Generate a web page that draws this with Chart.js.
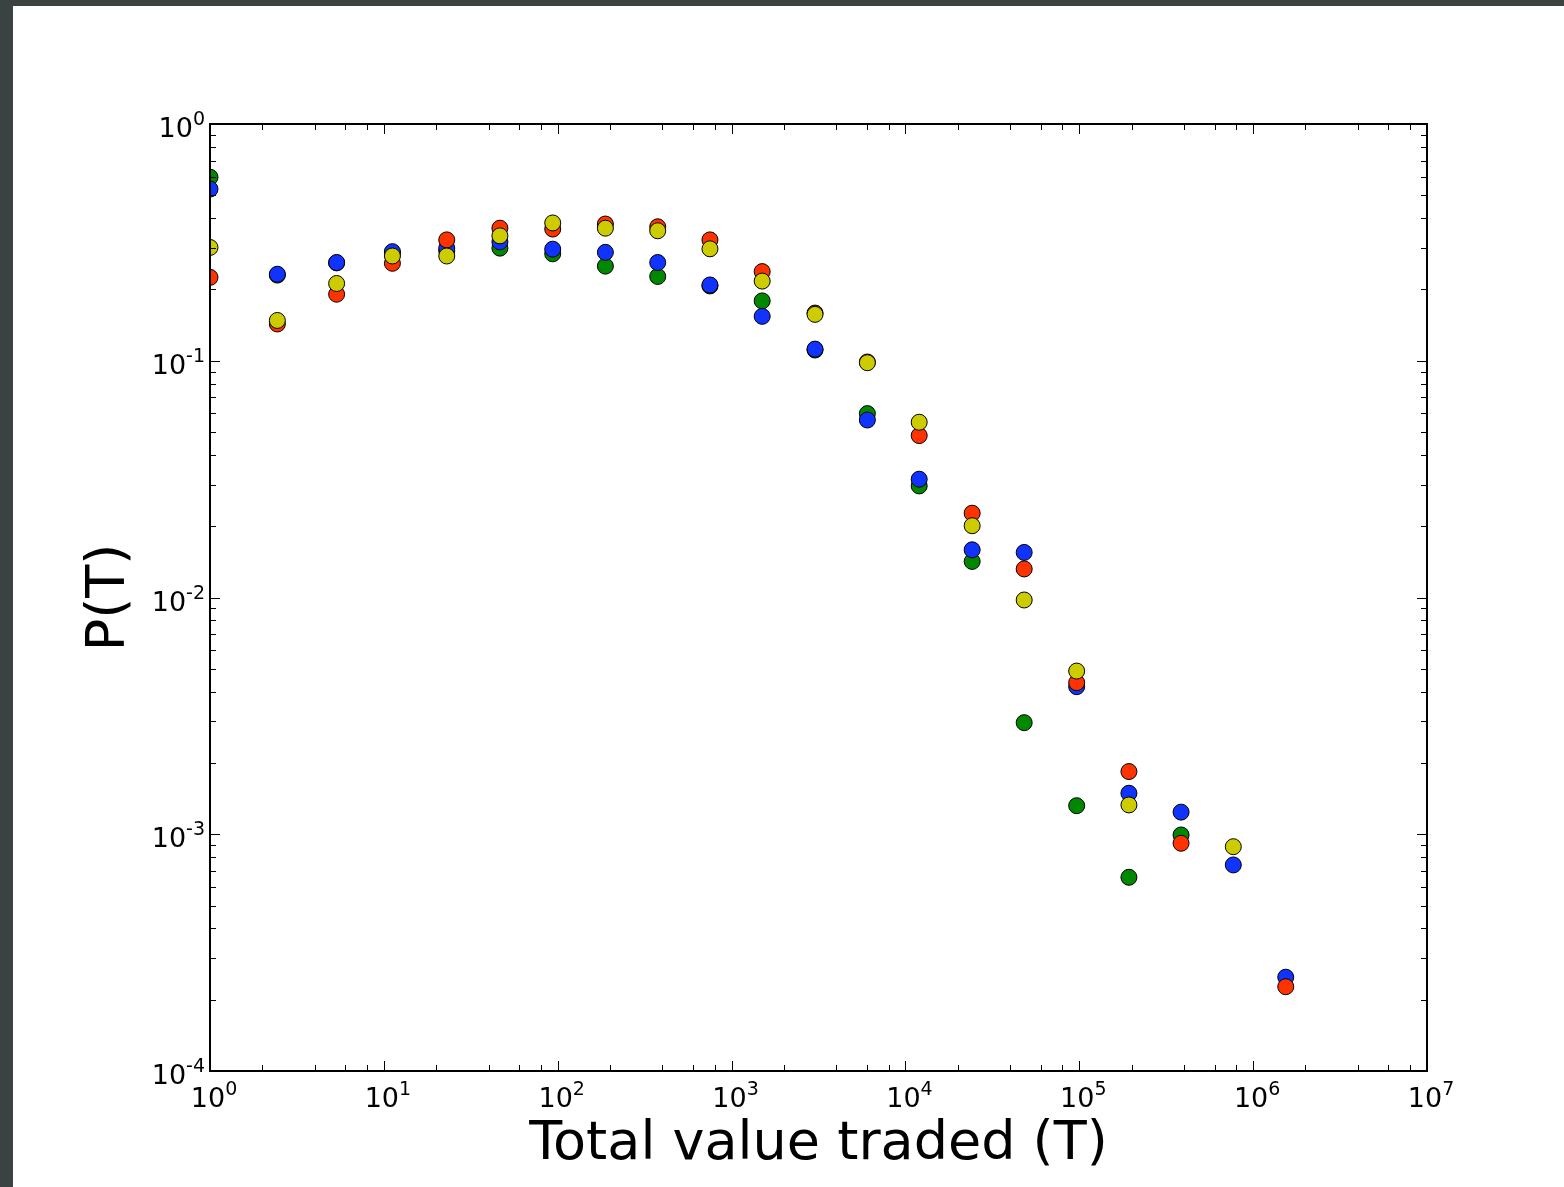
<!DOCTYPE html>
<html>
<head>
<meta charset="utf-8">
<script src="https://cdn.jsdelivr.net/npm/chart.js@4/dist/chart.umd.min.js"></script>
<style>
  html, body { margin: 0; padding: 0; background: #3a4341; width: 1564px; height: 1187px; overflow: hidden; }
  #wrap { position: absolute; left: 13px; top: 6px; width: 1551px; height: 1181px; background: #fff; }
</style>
</head>
<body>
<div id="wrap"><canvas id="chart" width="1551" height="1181"></canvas></div>

<script>
// total value traded (bin centres)
var totalValue = [1, 2.44, 5.35, 11.2, 23.0, 46.5, 93.6, 188, 376, 751, 1500, 3020, 6040,
                  12000, 24200, 48200, 96600, 193000, 385000, 769000, 1540000];

var pGreen  = [0.596, 0.230, 0.259, 0.285, 0.291, 0.299, 0.283, 0.251, 0.227, 0.207, 0.179, 0.111, 0.0598,
               0.0296, 0.0142, 0.00296, 0.00132, 0.000658, 0.000993, null, null];
var pBlue   = [0.531, 0.232, 0.260, 0.289, 0.299, 0.318, 0.296, 0.287, 0.260, 0.209, 0.154, 0.112, 0.0562,
               0.0316, 0.0159, 0.0155, 0.00420, 0.00149, 0.00124, 0.000742, 0.000249];
var pRed    = [0.225, 0.143, 0.191, 0.258, 0.324, 0.363, 0.360, 0.378, 0.368, 0.324, 0.238, 0.159, 0.0988,
               0.0483, 0.0227, 0.0132, 0.00437, 0.00184, 0.000916, null, 0.000227];
var pYellow = [0.301, 0.148, 0.212, 0.277, 0.277, 0.337, 0.382, 0.363, 0.354, 0.297, 0.217, 0.157, 0.0981,
               0.0550, 0.0201, 0.00976, 0.00489, 0.00133, null, 0.000886, null];

// tick labels are "10" with these exponents
var xTicks = [1, 10, 100, 1e3, 1e4, 1e5, 1e6, 1e7];
var xTickExp = ['0', '1', '2', '3', '4', '5', '6', '7'];
var yTicks = [1e-4, 1e-3, 1e-2, 1e-1, 1];
var yTickExp = ['-4', '-3', '-2', '-1', '0'];

function points(ys) {
    var out = [];
    for (var i = 0; i < totalValue.length; i++) {
        if (ys[i] != null) out.push({x: totalValue[i], y: ys[i]});
    }
    return out;
}

function series(ys, colour) {
    return {
        data: points(ys),
        backgroundColor: colour,
        borderColor: '#000',
        borderWidth: 1,
        pointRadius: 8,
        pointHoverRadius: 8
    };
}

var FONT = '"DejaVu Sans", sans-serif';

// inward ticks on all four sides, the box, and 10^n labels
var framePlugin = {
    id: 'frame',
    afterDatasetsDraw: function(chart) {
        var ctx = chart.ctx, a = chart.chartArea;
        var xs = chart.scales.x, ys = chart.scales.y;
        ctx.save();
        ctx.strokeStyle = '#000';
        ctx.lineWidth = 1;
        ctx.beginPath();
        for (var e = 0; e <= 7; e++) {
            var subs = e < 7 ? [1, 2, 4, 6, 8] : [1];
            for (var k = 0; k < subs.length; k++) {
                var px = Math.round(xs.getPixelForValue(subs[k] * Math.pow(10, e))) + 0.5;
                var len = subs[k] == 1 ? 10 : 6;
                ctx.moveTo(px, a.bottom); ctx.lineTo(px, a.bottom - len);
                ctx.moveTo(px, a.top); ctx.lineTo(px, a.top + len);
            }
        }
        for (var e = -4; e <= 0; e++) {
            var subs = e < 0 ? [1, 2, 3, 4, 5, 6, 7, 8, 9] : [1];
            for (var k = 0; k < subs.length; k++) {
                var py = Math.round(ys.getPixelForValue(subs[k] * Math.pow(10, e))) + 0.5;
                var len = subs[k] == 1 ? 10 : 6;
                ctx.moveTo(a.left, py); ctx.lineTo(a.left + len, py);
                ctx.moveTo(a.right, py); ctx.lineTo(a.right - len, py);
            }
        }
        ctx.stroke();
        ctx.lineWidth = 2;
        ctx.strokeRect(a.left, a.top, a.right - a.left, a.bottom - a.top);

        ctx.fillStyle = '#000';
        ctx.textBaseline = 'alphabetic';
        ctx.textAlign = 'left';
        var baseFont = '27px ' + FONT, expFont = '19px ' + FONT;
        function label(exp, x, y, anchor) {
            ctx.font = baseFont;
            var wb = ctx.measureText('10').width;
            ctx.font = expFont;
            var we = ctx.measureText(exp).width;
            var x0 = anchor == 'center' ? x - (wb + we) / 2 : x - wb - we;
            ctx.font = baseFont;
            ctx.fillText('10', x0, y);
            ctx.font = expFont;
            ctx.fillText(exp, x0 + wb, y - 12);
        }
        for (var i = 0; i < xTicks.length; i++) {
            label(xTickExp[i], xs.getPixelForValue(xTicks[i]) + 4, a.bottom + 36, 'center');
        }
        for (var i = 0; i < yTicks.length; i++) {
            label(yTickExp[i], a.left - 5, ys.getPixelForValue(yTicks[i]) + 13, 'right');
        }
        ctx.restore();
    }
};

Chart.defaults.font.family = FONT;
Chart.defaults.color = '#000';

new Chart(document.getElementById('chart'), {
    type: 'scatter',
    data: {
        // first dataset is drawn on top
        datasets: [
            series(pYellow, '#cccc00'),
            series(pRed, '#ff3300'),
            series(pBlue, '#1133ff'),
            series(pGreen, '#008800')
        ]
    },
    options: {
        responsive: false,
        animation: false,
        layout: { padding: { top: 118, right: 137, left: 0, bottom: 0 } },
        plugins: { legend: { display: false }, tooltip: { enabled: false } },
        scales: {
            x: {
                type: 'logarithmic',
                min: 1,
                max: 1e7,
                grid: { display: false },
                border: { display: false },
                ticks: { display: false },
                afterFit: function(s) { s.height = 116; },
                title: {
                    display: true,
                    text: 'Total value traded (T)',
                    font: { size: 54, lineHeight: 1 },
                    padding: { top: 0, bottom: 15 }
                }
            },
            y: {
                type: 'logarithmic',
                min: 1e-4,
                max: 1,
                grid: { display: false },
                border: { display: false },
                ticks: { display: false },
                afterFit: function(s) { s.width = 197; },
                title: {
                    display: true,
                    text: 'P(T)',
                    font: { size: 54, lineHeight: 1 },
                    padding: { top: 70, bottom: 0 }
                }
            }
        }
    },
    plugins: [framePlugin]
});
</script>
</body>
</html>
